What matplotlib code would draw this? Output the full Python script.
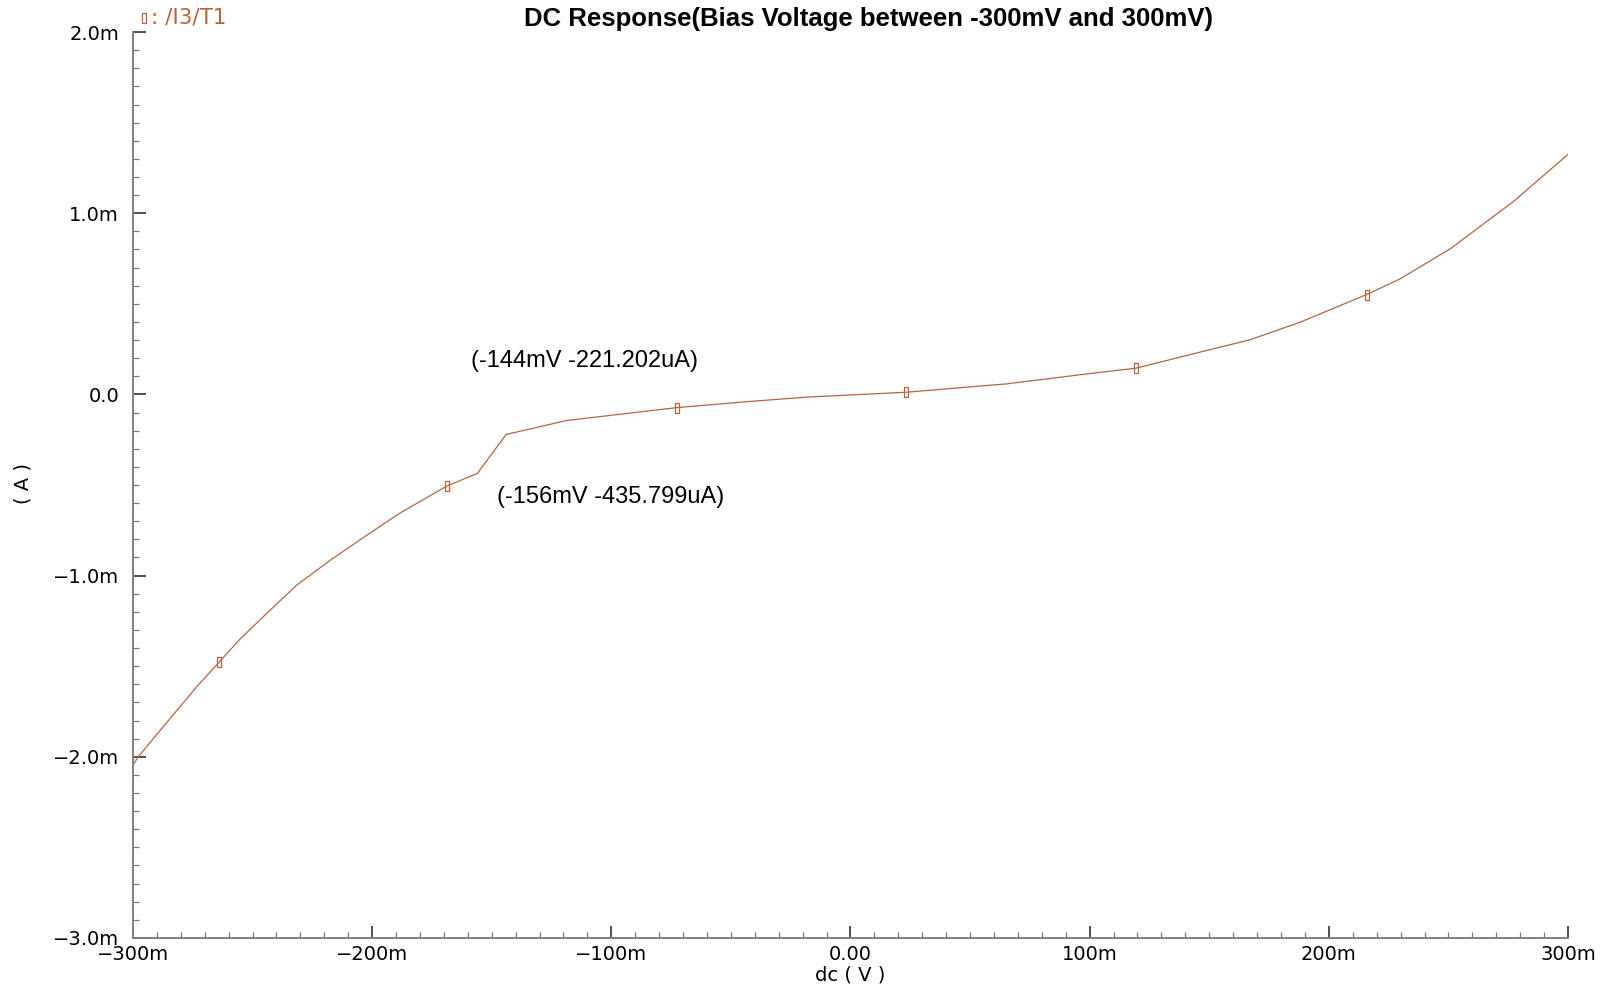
import numpy as np
import matplotlib.pyplot as plt
from matplotlib.lines import Line2D

# DC sweep of /I3/T1
v_mV = [-300, -297.8, -287.4, -273.4, -264.0, -255.3, -244.2, -231.6, -217.6,
        -200, -188.4, -168.8, -156, -144, -118.7, -72.7, -42.2, -18.5,
        23.3, 65.1, 100, 119.5, 146, 166.9, 187.9, 215.8, 229.7, 250.7,
        277.2, 300]
i_mA = [-2.046, -2.00, -1.835, -1.614, -1.478, -1.351, -1.21, -1.053, -0.916,
        -0.757, -0.655, -0.506, -0.4358, -0.2212, -0.144, -0.073, -0.039, -0.015,
        0.012, 0.058, 0.115, 0.145, 0.233, 0.301, 0.398, 0.551, 0.637, 0.803,
        1.065, 1.325]

# trace markers (Cadence style little boxes)
mark_v = [-264.0, -168.8, -72.7, 23.3, 119.5, 215.8]
mark_i = [-1.478, -0.506, -0.073, 0.012, 0.145, 0.551]

# cursor annotations
annot_text = ['(-144mV -221.202uA)', '(-156mV -435.799uA)']
annot_xy = [(-158.7, 0.187), (-147.8, -0.568)]

xticks = [-300, -200, -100, 0, 100, 200, 300]
xticklabels = ['\u2212300m', '\u2212200m', '\u2212100m', '0.00', '100m', '200m', '300m']
yticks = [2.0, 1.0, 0.0, -1.0, -2.0, -3.0]
yticklabels = ['2.0m', '1.0m', '0.0', '\u22121.0m', '\u22122.0m', '\u22123.0m']

col = '#b5653f'
box = [(-0.5, -1), (0.5, -1), (0.5, 1), (-0.5, 1), (-0.5, -1)]

fig = plt.figure(figsize=(16.14, 9.89), dpi=100)
ax = fig.add_axes([0.0824, 0.0516, 0.9715 - 0.0824, 0.9676 - 0.0516])

ax.plot(v_mV, i_mA, color=col, linewidth=0.9)
ax.plot(mark_v, mark_i, linestyle='none', marker=box, markersize=7,
        markerfacecolor='none', markeredgecolor=col, markeredgewidth=0.9)

for t, (x, y) in zip(annot_text, annot_xy):
    ax.text(x, y, t, ha='left', va='center', fontsize=17,
            family='Liberation Sans', color='black')

ax.set_xlim(-300, 300)
ax.set_ylim(-3.0, 2.0)
ax.set_xticks(xticks)
ax.set_xticklabels(xticklabels)
ax.set_yticks(yticks)
ax.set_yticklabels(yticklabels)
ax.set_xticks(np.arange(-300, 301, 10), minor=True)
ax.set_yticks(np.arange(-3.0, 2.01, 0.1), minor=True)
ax.tick_params(which='major', direction='in', length=9, width=1.2, color='#333333',
               labelsize=14, pad=5)
ax.tick_params(which='minor', direction='in', length=4, width=0.9, color='#777777')
ax.tick_params(axis='y', which='major', pad=10)

for s in ['top', 'right']:
    ax.spines[s].set_visible(False)
for s in ['left', 'bottom']:
    ax.spines[s].set_color('#808080')
    ax.spines[s].set_linewidth(1.4)

fig.text(0.5384, 0.981, 'DC Response(Bias Voltage between -300mV and 300mV)',
         ha='center', va='center', fontsize=18.5, fontweight='bold',
         family='Liberation Sans')
fig.text(0.5266, 0.014, 'dc ( V )', ha='center', va='center', fontsize=14)
fig.text(0.0143, 0.511, '( A )', ha='center', va='center', fontsize=14, rotation=90)

# legend entry at top-left
fig.add_artist(Line2D([0.0890], [0.982], transform=fig.transFigure, marker=box,
                      markersize=7, markerfacecolor='none', markeredgecolor=col,
                      markeredgewidth=0.9, linestyle='none'))
fig.text(0.0935, 0.982, ': /I3/T1', ha='left', va='center', fontsize=15.5, color=col)

fig.savefig('out.png', dpi=100)
